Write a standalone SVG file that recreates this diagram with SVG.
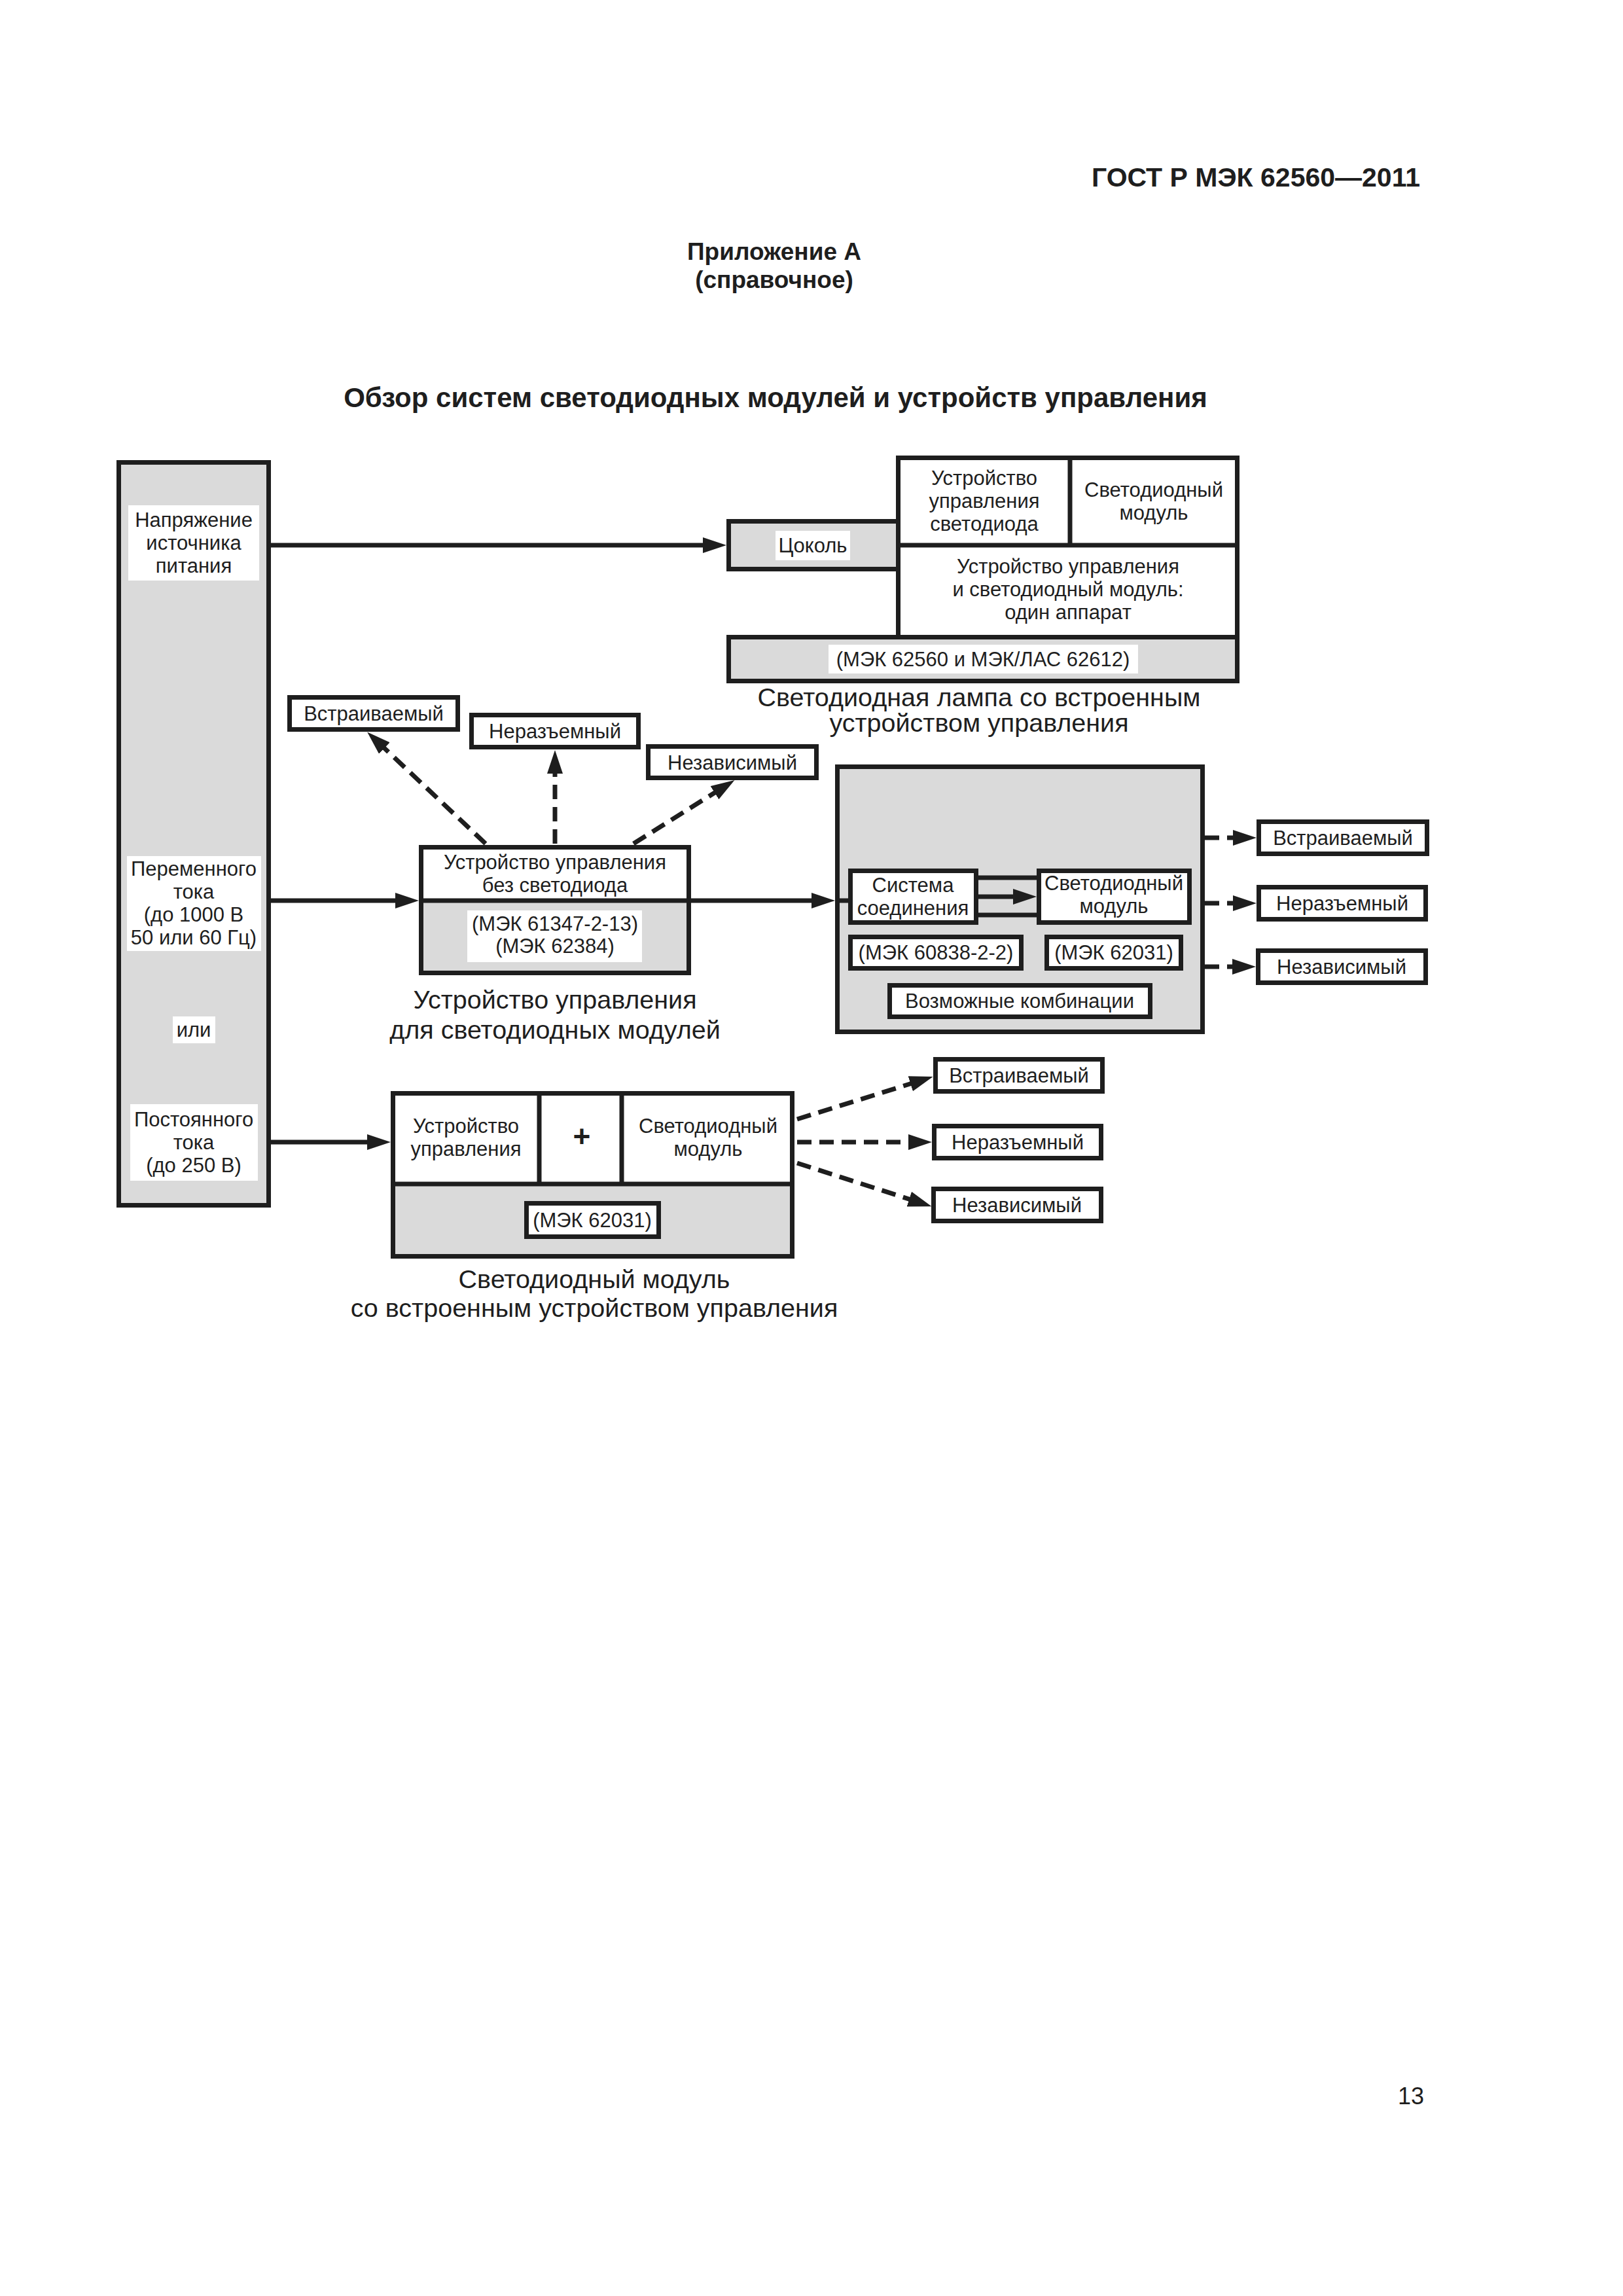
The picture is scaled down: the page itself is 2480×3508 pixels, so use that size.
<svg xmlns="http://www.w3.org/2000/svg" width="2480" height="3508" viewBox="0 0 2480 3508">
<defs>
<style>
.box{fill:#fff;stroke:#1e1e1e;stroke-width:7}
.grey{fill:#dadada;stroke:#1e1e1e;stroke-width:7}
.gf{fill:#dadada}
.wf{fill:#fff}
.ol{fill:none;stroke:#1e1e1e;stroke-width:7}
.t{font-family:"Liberation Sans",Arial,sans-serif;font-size:31px;fill:#1e1e1e;text-anchor:middle}
.cap{font-size:39.5px}
.b{font-weight:bold}
.ln{stroke:#1e1e1e;stroke-width:7;fill:none}
.dash{stroke-dasharray:22 12}
</style>
<marker id="ah" markerUnits="userSpaceOnUse" markerWidth="36" markerHeight="24" refX="6" refY="12" orient="auto" viewBox="0 0 36 24">
<path d="M0,0 L36,12 L0,24 z" fill="#1e1e1e"/>
</marker>
</defs>
<rect x="0" y="0" width="2480" height="3508" fill="#fff"/>

<g id="header">
<text class="t b" x="2170" y="285" style="font-size:41px;text-anchor:end">ГОСТ Р МЭК 62560—2011</text>
<text class="t b" x="1183" y="397" style="font-size:37px">Приложение А</text>
<text class="t b" x="1183" y="440" style="font-size:37px">(справочное)</text>
<text class="t b" x="1185" y="622" style="font-size:42px">Обзор систем светодиодных модулей и устройств управления</text>
</g>

<g id="source">
<rect class="grey" x="181.5" y="706.5" width="229" height="1135"/>
<rect class="wf" x="196" y="772" width="200" height="115"/>
<text class="t" x="296" y="805">Напряжение</text>
<text class="t" x="296" y="840">источника</text>
<text class="t" x="296" y="875">питания</text>
<rect class="wf" x="194" y="1308" width="205" height="145"/>
<text class="t" x="296" y="1338">Переменного</text>
<text class="t" x="296" y="1373">тока</text>
<text class="t" x="296" y="1408">(до 1000 В</text>
<text class="t" x="296" y="1443">50 или 60 Гц)</text>
<rect class="wf" x="264" y="1553" width="65" height="41"/>
<text class="t" x="296" y="1584">или</text>
<rect class="wf" x="199" y="1687" width="195" height="117"/>
<text class="t" x="296" y="1721">Постоянного</text>
<text class="t" x="296" y="1756">тока</text>
<text class="t" x="296" y="1791">(до 250 В)</text>
</g>

<g id="lamp">
<rect class="grey" x="1113.5" y="796.5" width="259" height="73"/>
<rect class="wf" x="1185" y="811" width="114" height="45"/>
<text class="t" x="1242" y="844">Цоколь</text>
<rect class="box" x="1372.5" y="699.5" width="518" height="274"/>
<line class="ln" x1="1635" y1="699.5" x2="1635" y2="833"/>
<line class="ln" x1="1372.5" y1="833" x2="1890.5" y2="833"/>
<text class="t" x="1504" y="741">Устройство</text>
<text class="t" x="1504" y="776">управления</text>
<text class="t" x="1504" y="811">светодиода</text>
<text class="t" x="1763" y="759">Светодиодный</text>
<text class="t" x="1763" y="794">модуль</text>
<text class="t" x="1632" y="876">Устройство управления</text>
<text class="t" x="1632" y="911">и светодиодный модуль:</text>
<text class="t" x="1632" y="946">один аппарат</text>
<rect class="grey" x="1113.5" y="973.5" width="777" height="67"/>
<rect class="wf" x="1266" y="985" width="473" height="44"/>
<text class="t" x="1502" y="1018">(МЭК 62560 и МЭК/ЛАС 62612)</text>
<text class="t cap" x="1496" y="1079">Светодиодная лампа со встроенным</text>
<text class="t cap" x="1496" y="1118">устройством управления</text>
</g>

<g id="gear-top-options">
<rect class="box" x="442.5" y="1065.5" width="257" height="49"/>
<text class="t" x="571" y="1101">Встраиваемый</text>
<rect class="box" x="720.5" y="1092.5" width="255" height="49"/>
<text class="t" x="848" y="1128">Неразъемный</text>
<rect class="box" x="990.5" y="1140.5" width="257" height="48"/>
<text class="t" x="1119" y="1176">Независимый</text>
</g>

<g id="gear">
<rect class="gf" x="643.5" y="1294.5" width="409" height="192"/>
<rect class="wf" x="643.5" y="1294.5" width="409" height="82"/>
<rect class="ol" x="643.5" y="1294.5" width="409" height="192"/>
<line class="ln" x1="643.5" y1="1376" x2="1052.5" y2="1376"/>
<text class="t" x="848" y="1328">Устройство управления</text>
<text class="t" x="848" y="1363">без светодиода</text>
<rect class="wf" x="714" y="1391" width="267" height="79"/>
<text class="t" x="848" y="1422">(МЭК 61347-2-13)</text>
<text class="t" x="848" y="1456">(МЭК 62384)</text>
<text class="t cap" x="848" y="1541">Устройство управления</text>
<text class="t cap" x="848" y="1587">для светодиодных модулей</text>
</g>

<g id="combinations">
<rect class="grey" x="1279.5" y="1171.5" width="558" height="405"/>
<rect class="box" x="1299.5" y="1330.5" width="192" height="79"/>
<text class="t" x="1395" y="1363">Система</text>
<text class="t" x="1395" y="1398">соединения</text>
<rect class="box" x="1587.5" y="1330.5" width="230" height="79"/>
<text class="t" x="1702" y="1360">Светодиодный</text>
<text class="t" x="1702" y="1395">модуль</text>
<rect class="box" x="1299.5" y="1431.5" width="261" height="48"/>
<text class="t" x="1430" y="1466">(МЭК 60838-2-2)</text>
<rect class="box" x="1599.5" y="1431.5" width="205" height="48"/>
<text class="t" x="1702" y="1466">(МЭК 62031)</text>
<rect class="box" x="1359.5" y="1505.5" width="398" height="48"/>
<text class="t" x="1558" y="1540">Возможные комбинации</text>
</g>

<g id="combinations-options">
<rect class="box" x="1923.5" y="1255.5" width="257" height="49"/>
<text class="t" x="2052" y="1291">Встраиваемый</text>
<rect class="box" x="1923.5" y="1355.5" width="255" height="49"/>
<text class="t" x="2051" y="1391">Неразъемный</text>
<rect class="box" x="1922.5" y="1452.5" width="256" height="49"/>
<text class="t" x="2050" y="1488">Независимый</text>
</g>

<g id="module">
<rect class="gf" x="600.5" y="1670.5" width="610" height="249"/>
<rect class="wf" x="600.5" y="1670.5" width="610" height="138.5"/>
<rect class="ol" x="600.5" y="1670.5" width="610" height="249"/>
<line class="ln" x1="600.5" y1="1809" x2="1210.5" y2="1809"/>
<line class="ln" x1="824" y1="1670.5" x2="824" y2="1809"/>
<line class="ln" x1="950" y1="1670.5" x2="950" y2="1809"/>
<text class="t" x="712" y="1731">Устройство</text>
<text class="t" x="712" y="1766">управления</text>
<text class="t b" x="889" y="1752" style="font-size:46px">+</text>
<text class="t" x="1082" y="1731">Светодиодный</text>
<text class="t" x="1082" y="1766">модуль</text>
<rect class="box" x="804.5" y="1838.5" width="202" height="51"/>
<text class="t" x="905" y="1875">(МЭК 62031)</text>
<text class="t cap" x="908" y="1968">Светодиодный модуль</text>
<text class="t cap" x="908" y="2012">со встроенным устройством управления</text>
</g>

<g id="module-options">
<rect class="box" x="1429.5" y="1618.5" width="255" height="49"/>
<text class="t" x="1557" y="1654">Встраиваемый</text>
<rect class="box" x="1427.5" y="1720.5" width="255" height="49"/>
<text class="t" x="1555" y="1756">Неразъемный</text>
<rect class="box" x="1426.5" y="1816.5" width="256" height="49"/>
<text class="t" x="1554" y="1852">Независимый</text>
</g>

<g id="connectors">
<line class="ln" x1="410" y1="833" x2="1080" y2="833" marker-end="url(#ah)"/>
<line class="ln" x1="410" y1="1376" x2="610" y2="1376" marker-end="url(#ah)"/>
<line class="ln" x1="1052" y1="1376" x2="1246" y2="1376" marker-end="url(#ah)"/>
<line class="ln" x1="1276" y1="1376" x2="1300" y2="1376"/>
<line class="ln" x1="410" y1="1745" x2="567" y2="1745" marker-end="url(#ah)"/>
<line class="ln" x1="1491" y1="1341" x2="1588" y2="1341"/>
<line class="ln" x1="1491" y1="1398" x2="1588" y2="1398"/>
<line class="ln" x1="1491" y1="1370" x2="1554" y2="1370" marker-end="url(#ah)"/>
<line class="ln dash" x1="742" y1="1289" x2="583" y2="1139" marker-end="url(#ah)"/>
<line class="ln dash" x1="848" y1="1289" x2="848" y2="1176" marker-end="url(#ah)"/>
<line class="ln dash" x1="968" y1="1289" x2="1097" y2="1208" marker-end="url(#ah)"/>
<line class="ln dash" x1="1841" y1="1280" x2="1890" y2="1280" marker-end="url(#ah)"/>
<line class="ln dash" x1="1841" y1="1380" x2="1890" y2="1380" marker-end="url(#ah)"/>
<line class="ln dash" x1="1841" y1="1477" x2="1889" y2="1477" marker-end="url(#ah)"/>
<line class="ln dash" x1="1218" y1="1710" x2="1397" y2="1654" marker-end="url(#ah)"/>
<line class="ln dash" x1="1218" y1="1745" x2="1394" y2="1745" marker-end="url(#ah)"/>
<line class="ln dash" x1="1218" y1="1777" x2="1395" y2="1834" marker-end="url(#ah)"/>
</g>

<g id="footer">
<text class="t" x="2156" y="3215" style="font-size:36px">13</text>
</g>
</svg>
